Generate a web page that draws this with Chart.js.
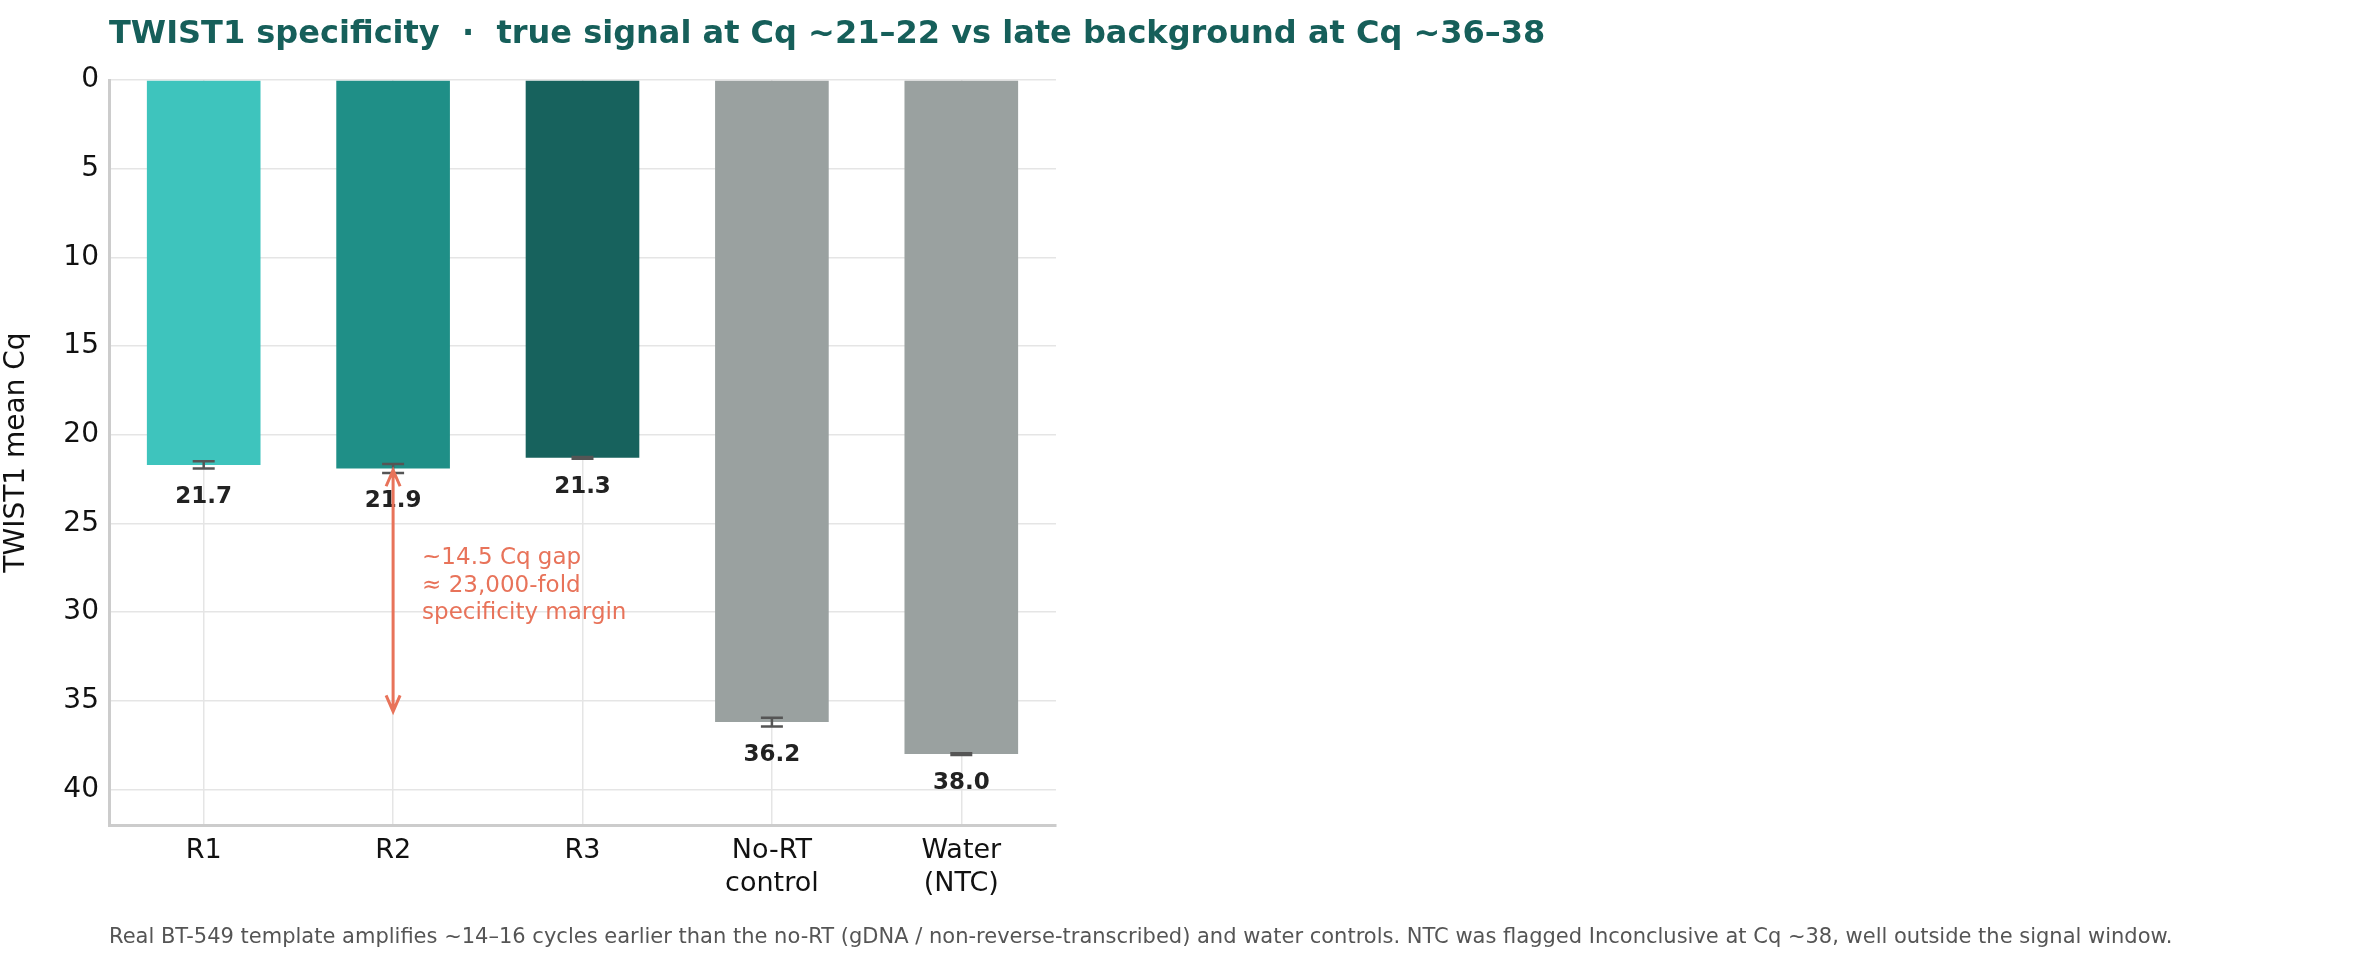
<!DOCTYPE html>
<html><head><meta charset="utf-8">
<script src="https://cdn.jsdelivr.net/npm/chart.js@4.4.1/dist/chart.umd.min.js"></script>
<style>html,body{margin:0;padding:0;background:#fff}#wrap{width:2364px;height:970px;position:relative}</style>
</head><body><div id="wrap"><canvas id="c"></canvas></div>
<script>
const categories = [["R1"],["R2"],["R3"],["No-RT","control"],["Water","(NTC)"]];
const meanCq = [21.7, 21.9, 21.3, 36.2, 38.0];
const errCq = [0.2, 0.25, 0.05, 0.25, 0.05];
const valueLabels = ["21.7","21.9","21.3","36.2","38.0"];
const barColors = ["#3ec4bd","#1f8f87","#17625d","#9aa1a0","#9aa1a0"];
const yTicks = [0,5,10,15,20,25,30,35,40];
const gapFrom = 22.0, gapTo = 35.6;
const gapText = ["~14.5 Cq gap","≈ 23,000-fold","specificity margin"];
const titleText = "TWIST1 specificity  ·  true signal at Cq ~21–22 vs late background at Cq ~36–38";
const footText = "Real BT-549 template amplifies ~14–16 cycles earlier than the no-RT (gDNA / non-reverse-transcribed) and water controls. NTC was flagged Inconclusive at Cq ~38, well outside the signal window.";
const FONT = "'DejaVu Sans', sans-serif";

const overlay = {
  id:'overlay',
  afterDatasetsDraw(chart){
    const ctx = chart.ctx, x = chart.scales.x, y = chart.scales.y, ca = chart.chartArea;
    ctx.save();
    // error bars
    ctx.strokeStyle = '#555'; ctx.lineWidth = 2.5;
    meanCq.forEach((v,i)=>{
      const cx = x.getPixelForValue(i);
      const y1 = y.getPixelForValue(v-errCq[i]), y2 = y.getPixelForValue(v+errCq[i]);
      ctx.beginPath();
      ctx.moveTo(cx,y1); ctx.lineTo(cx,y2);
      ctx.moveTo(cx-11,y1); ctx.lineTo(cx+11,y1);
      ctx.moveTo(cx-11,y2); ctx.lineTo(cx+11,y2);
      ctx.stroke();
      ctx.fillStyle = '#222'; ctx.font = 'bold 23px '+FONT;
      ctx.textAlign='center'; ctx.textBaseline='middle';
      ctx.fillText(valueLabels[i], cx, y.getPixelForValue(v+errCq[i]+1.6));
    });
    // gap arrow
    const ax = x.getPixelForValue(1);
    const t = y.getPixelForValue(gapFrom), b = y.getPixelForValue(gapTo);
    ctx.strokeStyle = '#e8735a'; ctx.lineWidth = 3;
    ctx.beginPath(); ctx.moveTo(ax,t); ctx.lineTo(ax,b);
    ctx.moveTo(ax-7,t+16); ctx.lineTo(ax,t); ctx.lineTo(ax+7,t+16);
    ctx.moveTo(ax-7,b-16); ctx.lineTo(ax,b); ctx.lineTo(ax+7,b-16);
    ctx.stroke();
    ctx.fillStyle = '#e8735a'; ctx.font = '23px '+FONT;
    ctx.textAlign='left'; ctx.textBaseline='middle';
    gapText.forEach((s,k)=>ctx.fillText(s, ax+29, y.getPixelForValue(26.95+k*1.55)));
    // title
    ctx.fillStyle = '#165f5a'; ctx.font = 'bold 32px '+FONT;
    ctx.textAlign='left'; ctx.textBaseline='middle';
    ctx.fillText(titleText, ca.left, 35);
    // footnote
    ctx.fillStyle = '#555'; ctx.font = '21px '+FONT;
    ctx.fillText(footText, ca.left, 938);
    ctx.restore();
  }
};

new Chart(document.getElementById('c'), {
  type:'bar',
  data:{ labels: categories, datasets:[{ data: meanCq, backgroundColor: barColors, barPercentage:0.6, categoryPercentage:1.0 }]},
  options:{
    responsive:true, maintainAspectRatio:false, animation:false,
    layout:{ padding:{ top:80, right:1308, left:0, bottom:0 }},
    plugins:{ legend:{display:false}, tooltip:{enabled:false}, title:{display:false} },
    scales:{
      x:{
        grid:{ offset:false, color:'#e5e5e5', lineWidth:1.5, drawTicks:false },
        border:{ color:'#cccccc', width:3 },
        ticks:{ color:'#111', font:{ size:27, family:FONT }, padding:10 },
        afterFit(s){ s.height = 145; }
      },
      y:{
        reverse:true, min:0, max:42,
        afterBuildTicks(s){ s.ticks = yTicks.map(v=>({value:v})); },
        grid:{ color:'#e5e5e5', lineWidth:1.5, drawTicks:false },
        border:{ color:'#cccccc', width:3 },
        ticks:{ color:'#111', font:{ size:28, family:FONT }, padding:10 },
        title:{ display:true, text:'TWIST1 mean Cq', color:'#111', font:{ size:28, family:FONT }, padding:0 },
        afterFit(s){ s.width = 109; }
      }
    }
  },
  plugins:[overlay]
});
</script></body></html>
